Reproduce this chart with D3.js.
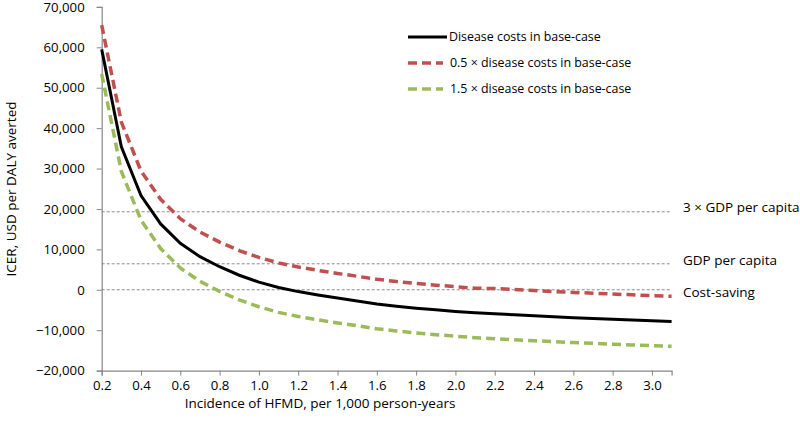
<!DOCTYPE html>
<html><head><meta charset="utf-8">
<script src="https://cdn.jsdelivr.net/npm/d3@7"></script>
<style>body{margin:0;background:#fff}svg{display:block}text{font-family:"Open Sans","Noto Sans",sans-serif;fill:#000}</style>
</head><body><svg id="c" width="800" height="437"></svg>
<script>
const incidence = [0.2,0.3,0.4,0.5,0.6,0.7,0.8,0.9,1.0,1.1,1.2,1.3,1.4,1.5,1.6,1.7,1.8,1.9,2.0,2.1,2.2,2.3,2.4,2.5,2.6,2.7,2.8,2.9,3.0,3.1];
const baseCase = [59500,35400,23300,16300,11500,8200,5700,3600,1900,550,-450,-1300,-2050,-2750,-3500,-4050,-4550,-4950,-5350,-5700,-5950,-6200,-6450,-6700,-6900,-7100,-7300,-7500,-7650,-7850];
const halfCosts = [65500,41500,29400,22400,17600,14300,11800,9700,8000,6650,5650,4800,4050,3350,2600,2050,1550,1150,750,400,300,50,-200,-450,-650,-850,-1050,-1250,-1450,-1600];
const oneHalfCosts = [53400,29300,17200,10200,5400,2100,-400,-2500,-4200,-5600,-6600,-7450,-8200,-8900,-9650,-10200,-10700,-11100,-11500,-11850,-12100,-12350,-12600,-12850,-13050,-13250,-13450,-13650,-13800,-14000];
const seriesNames = ["Disease costs in base-case","0.5 \u00D7 disease costs in base-case","1.5 \u00D7 disease costs in base-case"];
const thresholds = [19300, 6430, 0];
const thresholdLabels = ["3 \u00D7 GDP per capita","GDP per capita","Cost-saving"];
const xTicks = [0.2,0.4,0.6,0.8,1.0,1.2,1.4,1.6,1.8,2.0,2.2,2.4,2.6,2.8,3.0];
const yTicks = [-20000,-10000,0,10000,20000,30000,40000,50000,60000,70000];

const svg = d3.select("#c");
const x = d3.scaleLinear().domain([0.2,3.1]).range([101.7,671.6]);
const y = d3.scaleLinear().domain([-20000,70000]).range([370.6,6.9]);

// threshold lines
svg.selectAll("line.th").data(thresholds).join("line")
  .attr("x1",x(0.2)).attr("x2",x(3.1))
  .attr("y1",d=>y(d)).attr("y2",d=>y(d))
  .attr("stroke","#7f7f7f").attr("stroke-width",0.9).attr("stroke-dasharray","3,2");
const labelShift = [-5,-4,2];
svg.selectAll("text.th").data(thresholdLabels).join("text")
  .attr("x",683).attr("y",(d,i)=>y(thresholds[i])+labelShift[i]).attr("dy","0.35em")
  .attr("font-size",13.5).text(d=>d);

// axes
const xAxis = svg.append("g").attr("transform",`translate(0,${y(-20000)})`)
  .call(d3.axisBottom(x).tickValues(xTicks).tickFormat(d3.format(".1f")).tickSizeOuter(0).tickSize(5).tickPadding(5));
const yAxis = svg.append("g").attr("transform",`translate(${x(0.2)},0)`)
  .call(d3.axisLeft(y).tickValues(yTicks).tickFormat(d3.format(",")).tickSizeOuter(0).tickSize(5).tickPadding(10));
[xAxis,yAxis].forEach(g=>{
  g.select(".domain").attr("stroke","#868686").attr("stroke-width",1.2);
  g.selectAll(".tick line").attr("stroke","#868686");
  g.selectAll(".tick text").attr("font-size",13.2).attr("font-family","'Open Sans',sans-serif").attr("fill","#000");
});
yAxis.selectAll(".tick text").attr("dx","-2");

// lines
const line = d3.line().x((d,i)=>x(incidence[i])).y(d=>y(d));
const styles = [
  {data: baseCase, color:"#000000", dash:null, w:3},
  {data: halfCosts, color:"#C0504D", dash:"9,5", w:3.5},
  {data: oneHalfCosts, color:"#9BBB59", dash:"9,5", w:3.5}
];
svg.selectAll("path.s").data(styles).join("path")
  .attr("d",d=>line(d.data)).attr("fill","none")
  .attr("stroke",d=>d.color).attr("stroke-width",d=>d.w)
  .attr("stroke-dasharray",d=>d.dash);

// legend
const lg = svg.append("g");
styles.forEach((s,i)=>{
  const yy = 37 + i*26;
  lg.append("line").attr("x1",408).attr("x2",i===0?447:443).attr("y1",yy).attr("y2",yy)
    .attr("stroke",s.color).attr("stroke-width",s.w).attr("stroke-dasharray",s.dash?"9,5":null);
  lg.append("text").attr("x",i===0?449:450).attr("y",yy).attr("dy","0.35em").attr("font-size",12.4).text(seriesNames[i]);
});

// titles
svg.append("text").attr("x",320).attr("y",408).attr("text-anchor","middle").attr("font-size",13.5)
  .text("Incidence of HFMD, per 1,000 person-years");
svg.append("text").attr("transform","translate(16,189) rotate(-90)").attr("text-anchor","middle").attr("font-size",13.5)
  .text("ICER, USD per DALY averted");
</script></body></html>
